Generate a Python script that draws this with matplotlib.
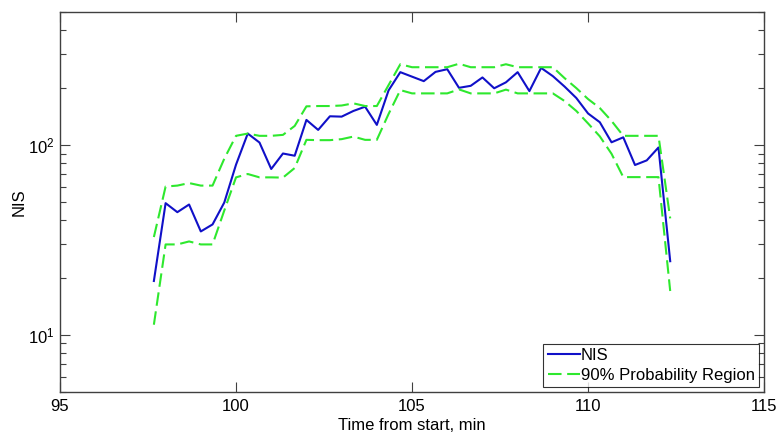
import numpy as np
import matplotlib
matplotlib.use("Agg")
import matplotlib.pyplot as plt
from matplotlib.ticker import LogLocator, FixedLocator, NullFormatter

plt.rcParams['font.family'] = ['Liberation Sans', 'DejaVu Sans']
plt.rcParams['mathtext.fontset'] = 'custom'
plt.rcParams['mathtext.rm'] = 'Liberation Sans'

# time axis: samples every 20 s starting at 97.667 min
time_min = [97.667 + i / 3 for i in range(45)]

nis = [19.2, 49.3, 44.2, 48.5, 35.0, 38.1, 49.7, 78.6, 114.6, 102.8,
       74.6, 90.0, 87.6, 135.2, 119.8, 141.3, 140.7, 150.7, 158.7, 127.3,
       193.4, 241.2, 228.4, 216.3, 242.0, 250.0, 199.5, 204.4, 226.2, 198.4,
       213.2, 241.2, 191.7, 254.0, 229.8, 202.5, 176.3, 146.2, 131.5, 103.1,
       109.5, 78.3, 82.8, 96.8, 24.4]

upper = [32.7, 60.3, 61.0, 62.9, 61.0, 61.0, 84.5, 111.5, 114.6, 111.5,
         111.5, 112.8, 125.7, 159.4, 160.0, 160.0, 161.0, 165.3, 160.0, 160.0,
         206.2, 265.5, 256.1, 256.1, 256.1, 256.1, 267.1, 256.1, 256.1, 256.1,
         265.5, 256.1, 256.1, 256.1, 256.1, 224.3, 198.8, 174.1, 156.2, 133.6,
         111.5, 111.5, 111.5, 111.5, 41.0]

lower = [11.3, 29.9, 29.9, 31.0, 29.9, 29.9, 45.1, 67.4, 70.2, 67.4,
         67.4, 67.2, 75.5, 106.2, 105.8, 105.8, 107.1, 110.5, 106.2, 106.2,
         145.3, 194.1, 186.5, 186.5, 186.5, 186.5, 195.7, 186.5, 186.5, 186.5,
         195.2, 186.5, 186.5, 186.5, 186.5, 170.0, 150.7, 129.6, 110.8, 89.7,
         67.6, 67.6, 67.6, 67.6, 17.0]

x_ticks = [95, 100, 105, 110, 115]

fig = plt.figure(figsize=(7.78, 4.32), dpi=100)
ax = fig.add_axes([0.0771, 0.0926, 0.905, 0.8796])

blue = '#1010c8'
green = '#2ee82e'
dash = (0, (6.5, 2.7))
ax.plot(time_min, nis, color=blue, lw=1.5, label='NIS')
ax.plot(time_min, upper, color=green, lw=1.5, ls=dash, label='90% Probability Region')
ax.plot(time_min, lower, color=green, lw=1.5, ls=dash)

ax.set_yscale('log')
ax.set_xlim(95, 115)
ax.set_ylim(5, 500)
ax.xaxis.set_major_locator(FixedLocator(x_ticks))
ax.yaxis.set_major_locator(LogLocator(base=10, numticks=10))
ax.yaxis.set_minor_locator(LogLocator(base=10, subs=np.arange(2, 10), numticks=10))
ax.yaxis.set_minor_formatter(NullFormatter())

ax.tick_params(which='both', direction='in', top=True, right=True,
               labelsize=12, colors='#404040', labelcolor='black', pad=5)
ax.tick_params(axis='y', which='both', pad=4)
ax.tick_params(which='major', length=7, width=0.8)
ax.tick_params(which='minor', length=4, width=0.8)
for s in ax.spines.values():
    s.set_color('#404040')
    s.set_linewidth(1.0)

ax.set_xlabel('Time from start, min', fontsize=12, labelpad=3)
ax.set_ylabel('NIS', fontsize=12, labelpad=1)

leg = ax.legend(loc='lower right', fontsize=12, frameon=True, fancybox=False,
                borderpad=0.25, handlelength=1.95, handletextpad=0.05,
                labelspacing=0.3, borderaxespad=0.3)
leg.get_frame().set_edgecolor('black')
leg.get_frame().set_linewidth(0.8)

fig.savefig('out.png', dpi=100)
